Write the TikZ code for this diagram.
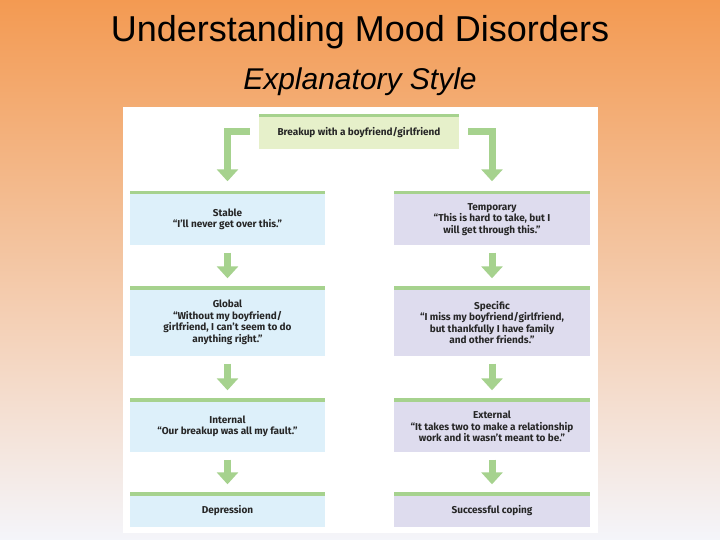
\documentclass[tikz,border=0pt]{standalone}
\usepackage{fontspec}
\setmainfont{Liberation Sans}
\newfontfamily\boxfont{Fira Sans}
\usetikzlibrary{arrows.meta}
\definecolor{bgtop}{HTML}{F39A52}
\definecolor{bgmid}{HTML}{C6D3EE}
\definecolor{bgbot}{HTML}{F4F5FA}
\definecolor{grn}{HTML}{A6D28E}
\definecolor{lblue}{HTML}{DDF0FA}
\definecolor{lpurp}{HTML}{DEDCEE}
\definecolor{lgreen}{HTML}{E6F0CA}
\tikzset{
  panel/.style={draw=none, inner sep=0pt, font=\boxfont\bfseries\fontsize{10}{11.5}\selectfont, align=center, text=black!85},
  flow/.style={draw=grn, line width=7pt, -{Triangle[width=21pt,length=12pt]}, shorten <=6pt, shorten >=9pt}
}
\newcommand{\mybox}[7]{% name, x1, y1, x2, y2, fill, text
  \fill[#6] (#2,#3) rectangle (#4,#5);
  \fill[grn] (#2,#3) rectangle (#4,#3+3.5);
  \node[panel, minimum width=#4-#2, minimum height=#5-#3] (#1) at ({(#2+#4)/2},{(#3+#5)/2+1.5}) {#7};
}
\begin{document}
\begin{tikzpicture}[x=1pt,y=-1pt]
\shade[top color=bgtop, middle color=bgmid, bottom color=bgbot] (0,0) rectangle (720,540);
\useasboundingbox (0,0) rectangle (720,540);
\node[font=\fontsize{36}{42}\selectfont] (title) at (360,32) {Understanding Mood Disorders};
\node[font=\itshape\fontsize{30}{36}\selectfont] (sub) at (360,82) {Explanatory Style};
\fill[white] (123,107) rectangle (598,533);
\mybox{top}{259}{114}{459}{149}{lgreen}{Breakup with a boyfriend/girlfriend}
\mybox{stable}{130}{191}{325}{245}{lblue}{Stable\\“I’ll never get over this.”}
\mybox{global}{130}{286}{325}{356}{lblue}{Global\\“Without my boyfriend/\\girlfriend, I can’t seem to do\\anything right.”}
\mybox{internal}{130}{398}{325}{452}{lblue}{Internal\\“Our breakup was all my fault.”}
\mybox{dep}{130}{492}{325}{527}{lblue}{Depression}
\mybox{temp}{394}{191}{590}{245}{lpurp}{Temporary\\“This is hard to take, but I\\will get through this.”}
\mybox{spec}{394}{286}{590}{356}{lpurp}{Specific\\“I miss my boyfriend/girlfriend,\\but thankfully I have family\\and other friends.”}
\mybox{ext}{394}{398}{590}{452}{lpurp}{External\\“It takes two to make a relationship\\work and it wasn’t meant to be.”}
\mybox{cope}{394}{492}{590}{527}{lpurp}{Successful coping}
\draw[flow, shorten <=9pt, shorten >=11pt] ([yshift=1pt]top.west) -| (stable.north);
\draw[flow, shorten <=9pt, shorten >=11pt] ([yshift=1pt]top.east) -| (temp.north);
\draw[flow] (stable.south) -- (global.north);
\draw[flow] (global.south) -- (internal.north);
\draw[flow] (internal.south) -- (dep.north);
\draw[flow] (temp.south) -- (spec.north);
\draw[flow] (spec.south) -- (ext.north);
\draw[flow] (ext.south) -- (cope.north);
\end{tikzpicture}
\end{document}
